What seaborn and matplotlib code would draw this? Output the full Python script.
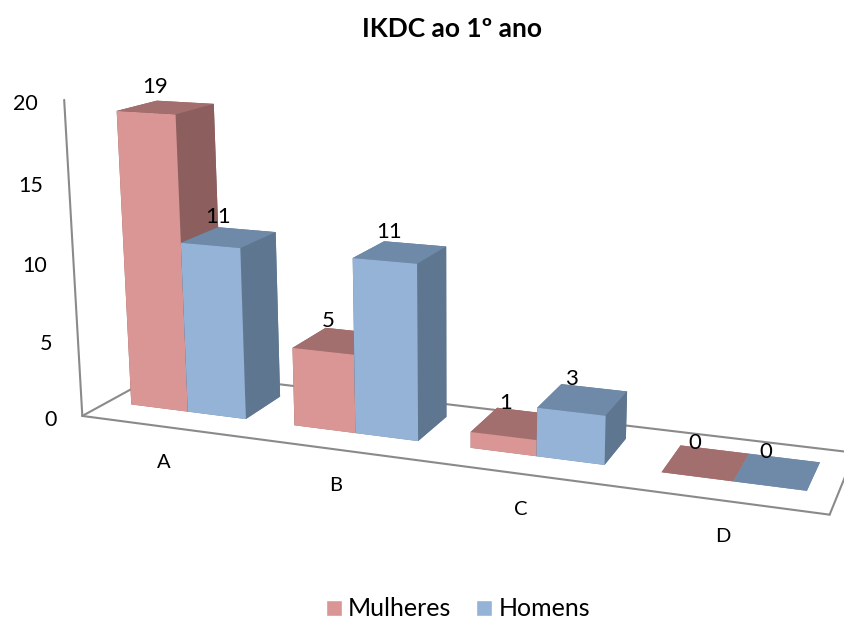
import numpy as np
import pandas as pd
import matplotlib
matplotlib.use("Agg")
import matplotlib.pyplot as plt
from matplotlib.patches import Patch
from mpl_toolkits.mplot3d import proj3d
import seaborn as sns

categories = ["A", "B", "C", "D"]
mulheres = [19, 5, 1, 0]
homens = [11, 11, 3, 0]
z_ticks = [0, 5, 10, 15, 20]
title = "IKDC ao 1º ano"

sns.set_theme(style="white")
plt.rcParams["font.family"] = ["Lato", "DejaVu Sans"]

df = pd.DataFrame({"cat": categories, "Mulheres": mulheres, "Homens": homens})
front = sns.color_palette(["#DA9694", "#95B3D7"])
top = sns.color_palette(["#A36F6E", "#6F89A8"])
side = sns.color_palette(["#8C5F5E", "#5F7690"])
GREY = "#8A8A8A"

W, H = 845, 619
fig = plt.figure(figsize=(W / 100, H / 100), dpi=100)
S = 826
cx, cy = 445, 286
ax = fig.add_axes([(cx - S / 2) / W, (H - cy - S / 2) / H, S / W, S / H], projection="3d")
ax.computed_zorder = False
ax.set_proj_type("persp", focal_length=0.3716)
ax.view_init(elev=14, azim=-69.5)
ax.set_box_aspect((0.4525, 0.0995, 0.1947), zoom=1.018)
ax.patch.set_alpha(0)

# floor outline and value axis
for xs, ys, zs in [([0, 4], [0, 0], [0, 0]), ([0, 4], [1, 1], [0, 0]),
                   ([0, 0], [0, 1], [0, 0]), ([4, 4], [0, 1], [0, 0]),
                   ([0, 0], [0, 0], [0, 20])]:
    ax.plot(xs, ys, zs, color=GREY, lw=1.5, zorder=1, solid_capstyle="round")

bw = 0.355
y0, dy = 0.30, 0.47
z = 2
for i, row in df.iterrows():
    for j, name in enumerate(["Mulheres", "Homens"]):
        x0 = i + 0.5 - bw + j * bw
        # face order: bottom, top, front, back, left, right
        cols = [top[j], top[j], front[j], side[j], side[j], side[j]]
        if row[name] == 0:
            cols = [top[j]] * 6
        ax.bar3d(x0, y0, 0, bw, dy, row[name], color=cols, shade=False,
                 edgecolor="none", linewidth=0, zorder=z)
        z += 1

ax.set_xlim(0, 4, view_margin=0)
ax.set_ylim(0, 1, view_margin=0)
ax.set_zlim(0, 20, view_margin=0)
ax.set_axis_off()


def label(x, y, zv, text, dx, dy_, **kw):
    px, py, _ = proj3d.proj_transform(x, y, zv, ax.get_proj())
    ax.annotate(text, (px, py), xytext=(dx, dy_), textcoords="offset pixels",
                ha=kw.pop("ha", "center"), va="center", color="black",
                annotation_clip=False, zorder=50, **kw)


for v in z_ticks:
    label(0, 0, v, str(v), -26, -4, ha="right", fontsize=15.5)

for i, c in enumerate(categories):
    label(i + 0.5, 0, 0, c, 1, -36, fontsize=14.5)
    for j, name in enumerate(["Mulheres", "Homens"]):
        xc = i + 0.5 - bw + j * bw + bw / 2
        label(xc, y0 + dy / 2, df.loc[i, name], str(df.loc[i, name]), -11, 20, fontsize=16)

fig.text(452.5 / W, 1 - 29 / H, title, ha="center", va="center", fontsize=19,
         fontweight="bold", color="black")

handles = [Patch(facecolor=front[0], label="Mulheres"), Patch(facecolor=front[1], label="Homens")]
fig.legend(handles=handles, loc="center", bbox_to_anchor=(458 / W, 1 - 609 / H), ncol=2,
           frameon=False, fontsize=18, handlelength=0.63, handleheight=0.63,
           handletextpad=0.25, columnspacing=1.0, labelcolor="black")

fig.savefig("out.png", dpi=100)
